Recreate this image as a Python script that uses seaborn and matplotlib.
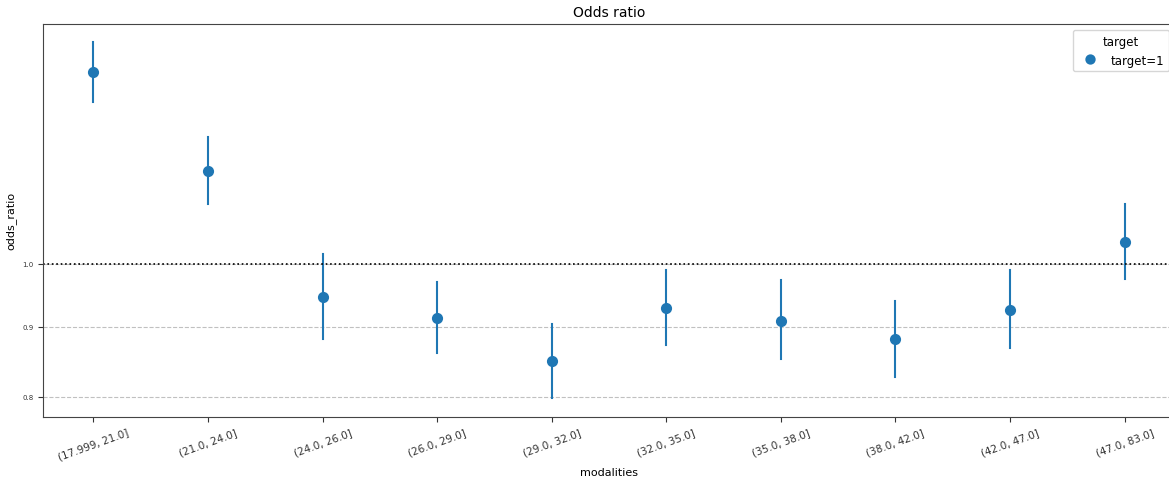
import pandas as pd
import seaborn as sns
import matplotlib.pyplot as plt
from matplotlib.ticker import FormatStrFormatter, NullLocator

modalities = ['(17.999, 21.0]', '(21.0, 24.0]', '(24.0, 26.0]', '(26.0, 29.0]',
              '(29.0, 32.0]', '(32.0, 35.0]', '(35.0, 38.0]', '(38.0, 42.0]',
              '(42.0, 47.0]', '(47.0, 83.0]']
odds_ratio = [1.378, 1.167, 0.946, 0.913, 0.850, 0.929, 0.909, 0.881, 0.925, 1.037]
ci_low = [1.311, 1.105, 0.882, 0.861, 0.799, 0.873, 0.852, 0.827, 0.868, 0.975]
ci_high = [1.449, 1.236, 1.016, 0.969, 0.904, 0.990, 0.972, 0.939, 0.989, 1.104]
target = 'target=1'

# 3 rows per modality (estimate, low, high): median -> estimate, full range -> CI
df = pd.DataFrame({
    'modalities': modalities * 3,
    'odds_ratio': odds_ratio + ci_low + ci_high,
    'target': [target] * (3 * len(modalities)),
})

fig = plt.figure(figsize=(11.69, 4.81), dpi=100)
ax = fig.add_axes([43 / 1169, 1 - 417.7 / 481, (1175 - 43) / 1169, (417.7 - 25) / 481])

sns.pointplot(data=df, x='modalities', y='odds_ratio', hue='target',
              estimator='median', errorbar=('pi', 100), linestyle='none',
              markers='o', markersize=6, palette=['#1f77b4'],
              err_kws={'linewidth': 1.5}, ax=ax)

ax.set_yscale('log')
ax.set_ylim(0.774, 1.4926)
ax.set_xlim(-0.44, 9.44)
ax.set_yticks([0.8, 0.9, 1.0])
ax.yaxis.set_major_formatter(FormatStrFormatter('%.1f'))
ax.yaxis.set_minor_locator(NullLocator())
ax.tick_params(axis='y', labelsize=5, colors='#333333')
ax.tick_params(axis='x', labelsize=7.5, rotation=20, colors='#333333')
for s in ax.spines.values():
    s.set_color('#444444')
ax.grid(axis='y', linestyle='--', color='#c0c0c0', linewidth=0.8)
ax.axhline(1.0, color='black', linestyle=':', linewidth=1.2)

ax.set_title('Odds ratio', fontsize=10)
ax.set_xlabel('modalities', fontsize=8)
ax.set_ylabel('odds_ratio', fontsize=8)
ax.legend(title='target', loc='upper right', fontsize=8.5, title_fontsize=8.5,
          markerscale=0.9)

fig.savefig('out.png', dpi=100)
